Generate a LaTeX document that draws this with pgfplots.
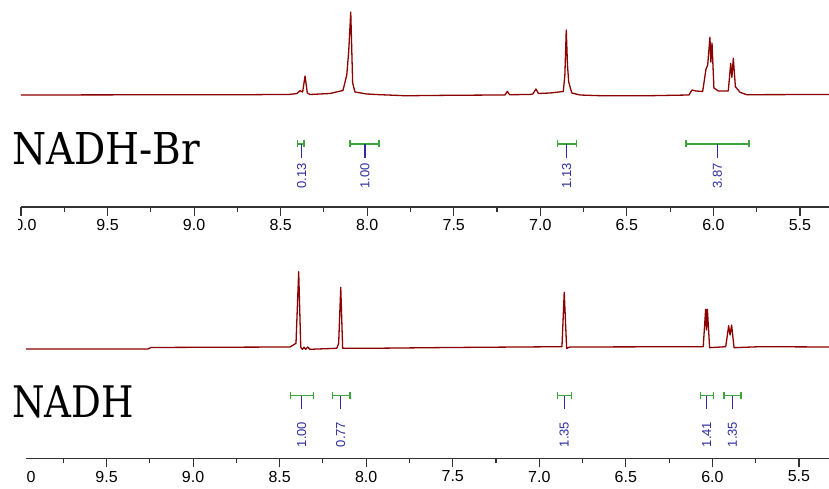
\documentclass[border=0pt]{standalone}
\usepackage{pgfplots}
\usepackage{pgfplotstable}
\pgfplotsset{compat=1.18}
\usepackage{fontspec}
\setmainfont{Liberation Sans}
\newfontfamily\titlefont{DejaVu Serif}
\definecolor{specred}{RGB}{139,0,0}
\definecolor{intgreen}{RGB}{60,165,60}
\definecolor{intblue}{RGB}{45,45,160}
\definecolor{axgray}{RGB}{50,50,50}

\pgfplotstableread{
x h
10.000 0.0
9.255 0.2
8.677 0.3
8.446 0.6
8.4055 1.5
8.388 4.3
8.373 3.0
8.359 19.0
8.346 2.0
8.330 0.5
8.215 1.5
8.140 4.5
8.118 20.0
8.107 43.0
8.095 83.0
8.084 12.0
8.0705 3.0
8.003 1.0
7.926 0.3
7.810 -0.5
7.782 -0.8
7.695 -0.6
7.522 -0.3
7.233 0.0
7.204 0.0
7.1906 3.7
7.178 0.3
7.060 0.5
7.043 1.0
7.025 6.0
7.0104 1.5
6.944 2.0
6.867 3.5
6.858 20.0
6.850 65.0
6.843 30.0
6.836 13.0
6.818 2.0
6.771 0.0
6.655 -0.7
6.366 -0.7
6.141 0.0
6.124 5.0
6.101 4.0
6.062 3.5
6.043 25.7
6.033 30.0
6.020 57.7
6.0145 33.0
6.008 52.0
5.997 7.0
5.972 4.0
5.914 4.0
5.900 31.7
5.893 17.7
5.885 36.7
5.873 8.3
5.846 2.7
5.808 0.3
5.332 0.5
}\topspec

\pgfplotstableread{
x h
10.000 0.0
9.261 0.0
9.243 1.5
8.960 1.7
8.440 2.0
8.4055 5.7
8.390 77.3
8.378 1.7
8.369 -0.3
8.359 1.7
8.3495 -0.3
8.338 2.0
8.325 -0.3
8.170 0.7
8.159 5.7
8.147 61.7
8.136 0.7
7.920 0.8
7.516 1.5
6.869 2.3
6.856 56.7
6.842 0.7
6.823 2.0
6.053 2.3
6.039 39.7
6.034 19.0
6.029 39.7
6.016 1.3
5.923 2.3
5.906 23.3
5.898 14.0
5.889 24.0
5.875 1.3
5.725 2.3
5.326 2.0
}\botspec

% #1 x1, #2 x2, #3 xc, #4 label, #5 ybar, #6 cap low, #7 cap high, #8 blue end, #9 label top
\newcommand{\integ}[9]{%
  \addplot[intgreen, line width=1.3pt] coordinates {(#1,#5) (#2,#5)};
  \addplot[intgreen, line width=1.3pt] coordinates {(#1,#6) (#1,#7)};
  \addplot[intgreen, line width=1.3pt] coordinates {(#2,#6) (#2,#7)};
  \addplot[intblue, line width=1.3pt] coordinates {(#3,#5) (#3,#8)};
  \node[rotate=90, anchor=east, inner sep=0pt, text=intblue,
        font=\fontsize{13}{13}\selectfont] at (axis cs:#3,#9) {#4};
}

\pgfplotsset{
  nmr/.style={
    scale only axis,
    x dir=reverse,
    xmax=10,
    enlargelimits=false,
    clip=false,
    axis x line*=bottom,
    axis y line=none,
    axis line style={-, axgray, line width=1.2pt},
    xtick={5.5,6.0,6.5,7.0,7.5,8.0,8.5,9.0,9.5,10.0},
    minor xtick={5.75,6.25,6.75,7.25,7.75,8.25,8.75,9.25,9.75},
    tick align=outside,
    major tick length=9pt,
    minor tick length=5pt,
    tick style={axgray, line width=1.1pt},
    x tick label style={font=\fontsize{16}{16}\selectfont, text=black,
      /pgf/number format/.cd, fixed, fixed zerofill, precision=1,
      assume math mode=true},
  }
}

\begin{document}
\begin{tikzpicture}[x=1pt,y=1pt]
\useasboundingbox (0,0) rectangle (829,489);

% ---------- top panel: NADH-Br ----------
\begin{scope}
\clip (18.5,245) rectangle (829,489);
\begin{axis}[nmr, at={(21pt,282pt)}, anchor=south west,
  width=808pt, height=207pt, xmin=5.3322, ymin=0, ymax=207]
  \addplot[specred, line width=1.3pt, line join=round]
    table[x=x, y expr=\thisrow{h}+112] {\topspec};
  \integ{8.4015}{8.365}{8.3784}{0.13}{63}{59.5}{66.5}{49}{44}
  \integ{8.099}{7.932}{8.013}{1.00}{63}{59.5}{66.5}{49}{44}
  \integ{6.8995}{6.790}{6.8475}{1.13}{63}{59.5}{66.5}{49}{44}
  \integ{6.158}{5.794}{5.977}{3.87}{63}{59.5}{66.5}{49}{44}
\end{axis}
\end{scope}

% ---------- bottom panel: NADH ----------
\begin{scope}
\clip (26,0) rectangle (829,244);
\begin{axis}[nmr, at={(20pt,30.7pt)}, anchor=south west,
  width=809pt, height=213.3pt, xmin=5.3264, ymin=0, ymax=213.3]
  \addplot[specred, line width=1.3pt, line join=round]
    table[x=x, y expr=\thisrow{h}+109.3] {\botspec};
  \integ{8.436}{8.306}{8.373}{1.00}{62.6}{59.1}{66.1}{49.3}{36.6}
  \integ{8.194}{8.094}{8.147}{0.77}{62.6}{59.1}{66.1}{49.3}{36.6}
  \integ{6.894}{6.813}{6.856}{1.35}{62.6}{59.1}{66.1}{49.3}{36.6}
  \integ{6.068}{5.995}{6.033}{1.41}{62.6}{59.1}{66.1}{49.3}{36.6}
  \integ{5.933}{5.835}{5.885}{1.35}{62.6}{59.1}{66.1}{49.3}{36.6}
\end{axis}
\end{scope}

% ---------- titles ----------
\node[anchor=base west, inner sep=0pt] at (12,324)
  {\resizebox{188pt}{32pt}{\titlefont NADH-Br}};
\node[anchor=base west, inner sep=0pt] at (12,71.3)
  {\resizebox{121.6pt}{31.7pt}{\titlefont NADH}};
\end{tikzpicture}
\end{document}
